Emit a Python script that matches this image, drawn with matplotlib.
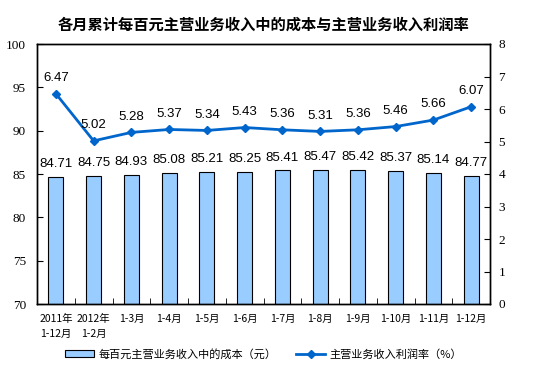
import matplotlib
matplotlib.use("Agg")
import matplotlib.pyplot as plt
import numpy as np

categories = ["2011年\n1-12月", "2012年\n1-2月", "1-3月", "1-4月", "1-5月", "1-6月",
              "1-7月", "1-8月", "1-9月", "1-10月", "1-11月", "1-12月"]
cost = [84.71, 84.75, 84.93, 85.08, 85.21, 85.25, 85.41, 85.47, 85.42, 85.37, 85.14, 84.77]
margin = [6.47, 5.02, 5.28, 5.37, 5.34, 5.43, 5.36, 5.31, 5.36, 5.46, 5.66, 6.07]
left_ticks = [70, 75, 80, 85, 90, 95, 100]
right_ticks = [0, 1, 2, 3, 4, 5, 6, 7, 8]

CJK = ["Noto Sans CJK SC", "DejaVu Sans"]
plt.rcParams['font.family'] = CJK

fig = plt.figure(figsize=(5.55, 3.72), dpi=100)
ax = fig.add_axes([37/555, 1-304/372, (490-37)/555, (304-44)/372])
ax2 = ax.twinx()

x = np.arange(len(categories))
bars = ax.bar(x, cost, width=0.4, color="#99CCFF", edgecolor="black", linewidth=0.8,
              label="每百元主营业务收入中的成本（元）", zorder=2)
ax.set_ylim(70, 100)
ax.set_xlim(-0.5, len(categories)-0.5)
ax.set_yticks(left_ticks)
ax.set_yticklabels([str(t) for t in left_ticks])
ax.tick_params(axis='y', direction='in', length=4, pad=8)
ax.set_xticks(x)
ax.set_xticklabels(categories, fontsize=7.5, linespacing=1.6)
ax.set_xticks(np.arange(len(categories)+1)-0.5, minor=True)
ax.tick_params(axis='x', which='major', length=0, pad=7)
ax.tick_params(axis='x', which='minor', direction='in', length=4)

for xi, v in zip(x, cost):
    ax.annotate(f"{v:.2f}", (xi, v), xytext=(0, 5), textcoords="offset points",
                ha="center", va="bottom", fontsize=9.5, family="Liberation Sans")

line, = ax2.plot(x, margin, color="#0066CC", linewidth=2, marker="D", markersize=4,
                 label="主营业务收入利润率（%）", zorder=3)
ax2.set_ylim(0, 8)
ax2.set_yticks(right_ticks)
ax2.set_yticklabels([str(t) for t in right_ticks])
ax2.tick_params(axis='y', direction='in', length=4, pad=6)
for xi, v in zip(x, margin):
    ax2.annotate(f"{v:.2f}", (xi, v), xytext=(0, 7), textcoords="offset points",
                 ha="center", va="bottom", fontsize=9.5, family="Liberation Sans")

for lbl in ax.get_yticklabels() + ax2.get_yticklabels():
    lbl.set_fontfamily("Liberation Serif")
    lbl.set_fontsize(9.5)

for a in (ax, ax2):
    for s in a.spines.values():
        s.set_linewidth(1.0)
        s.set_color("black")

cx = (37 + 490) / 2 / 555
fig.text(cx, 1-25/372, "各月累计每百元主营业务收入中的成本与主营业务收入利润率",
         ha="center", va="center", fontsize=11, fontweight="bold")

fig.legend(handles=[bars, line], loc="center", bbox_to_anchor=(cx, 1-354/372),
           ncol=2, frameon=False, fontsize=8, handlelength=2.6, columnspacing=1.8,
           handletextpad=0.4)

fig.savefig("out.png", dpi=100)
